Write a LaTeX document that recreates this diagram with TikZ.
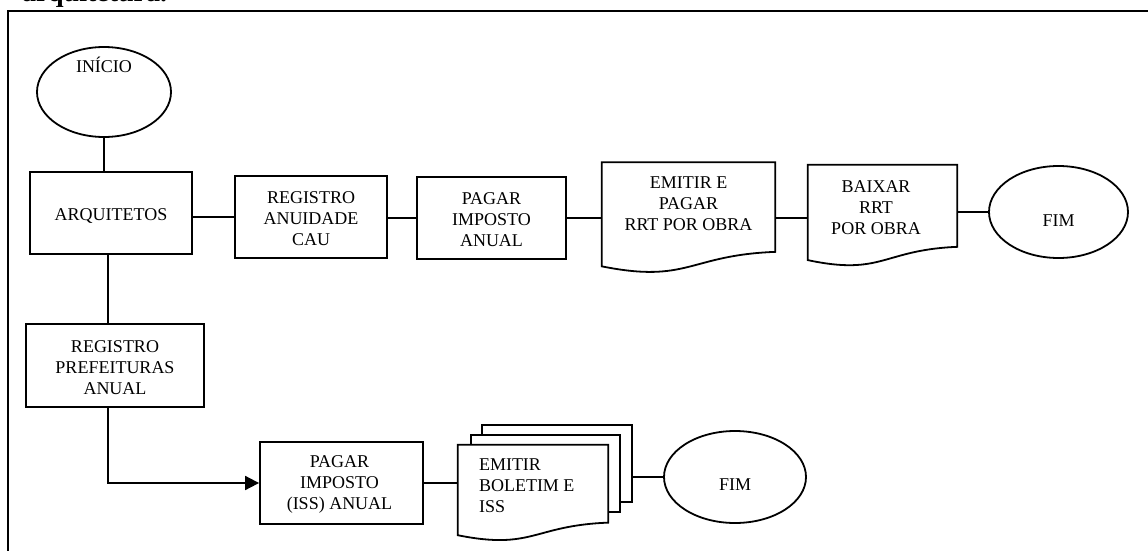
\documentclass[tikz,border=0pt]{standalone}
\usepackage{fontspec}
\setmainfont{Liberation Serif}
\usetikzlibrary{shapes.geometric,arrows.meta,calc}

% Flowchart "document" outline: straight top and sides, wavy bottom edge
\newcommand\docoutline[2][]{%
  \draw[shapeline,#1] (#2.north west) -- (#2.north east)
    -- ($(#2.north east)!0.804!(#2.south east)$)
    .. controls ($(#2.north)!0.834!(#2.south)$) and ($(#2.north)!1.09!(#2.south)$)
    .. ($(#2.north west)!0.934!(#2.south west)$) -- cycle;}

\begin{document}
\begin{tikzpicture}[x=1pt,y=-1pt,
  every node/.style={font=\fontsize{18}{21}\selectfont},
  shapeline/.style={line width=1.8pt, line join=miter},
  conn/.style={line width=1.8pt},
  boxnode/.style={rectangle, draw, line width=1.8pt, inner sep=0pt},
  ovalnode/.style={ellipse, draw, line width=1.8pt, inner sep=0pt},
  docnode/.style={rectangle, draw=none, inner sep=0pt},
  pagenode/.style={rectangle, draw, fill=white, line width=1.8pt, inner sep=0pt},
  txt/.style={align=center, inner sep=0pt}]

\useasboundingbox (0,0) rectangle (1148,551);

% caption above the frame and the frame itself
\node[anchor=base west, inner sep=0pt, font=\fontsize{28}{30}\selectfont\bfseries] (caption) at (22,2) {arquitetura.};
\draw[line width=2.4pt] (8,560) -- (8,11) -- (1160,11);

% upper branch
\node[ovalnode, minimum width=134pt, minimum height=90pt,
      label={[txt,yshift=27pt]center:INÍCIO}] (inicio) at (104,92) {};
\node[boxnode, minimum width=162pt, minimum height=82pt,
      label={[txt,yshift=-3pt]center:ARQUITETOS}] (arq) at (111,213) {};
\node[boxnode, minimum width=152pt, minimum height=82pt,
      label={[txt,yshift=-2pt]center:{REGISTRO\\ANUIDADE\\CAU}}] (anuid) at (311,217) {};
\node[boxnode, minimum width=149pt, minimum height=82pt,
      label={[txt,yshift=-2pt]center:{PAGAR\\IMPOSTO\\ANUAL}}] (pagar) at (491.5,218) {};
\node[docnode, minimum width=173pt, minimum height=111pt,
      label={[txt,yshift=14pt]center:{EMITIR E\\PAGAR\\RRT POR OBRA}}] (emit) at (688.5,218) {};
\docoutline{emit}
\node[docnode, minimum width=149pt, minimum height=101.7pt,
      label={[txt,xshift=-6.5pt,yshift=8pt]center:{BAIXAR\\RRT\\POR OBRA}}] (baix) at (882.5,215.8) {};
\docoutline{baix}
\node[ovalnode, minimum width=139pt, minimum height=92pt,
      label={[txt,yshift=-9pt]center:FIM}] (fim1) at (1058.5,212) {};

% lower branch
\node[boxnode, minimum width=178pt, minimum height=83pt,
      label={[txt,yshift=-2.5pt]center:{REGISTRO\\PREFEITURAS\\ANUAL}}] (pref) at (115,365.5) {};
\node[boxnode, minimum width=163pt, minimum height=82pt,
      label={[txt,xshift=-2pt,yshift=-1pt]center:{PAGAR\\IMPOSTO\\(ISS) ANUAL}}] (pagariss) at (341.5,483) {};

% stacked documents
\node[pagenode, minimum width=150pt, minimum height=77pt] (page3) at (557,463.5) {};
\node[pagenode, minimum width=149pt, minimum height=77pt] (page2) at (545.5,473.5) {};
\node[docnode, minimum width=150pt, minimum height=96.4pt] (front) at (533,493.2) {};
\docoutline[fill=white]{front}
\node[txt, align=left, anchor=west] (fronttext) at ([xshift=21pt,yshift=8pt]front.west)
      {EMITIR\\BOLETIM E\\ISS};

\node[ovalnode, minimum width=142pt, minimum height=92pt,
      label={[txt,yshift=-8pt]center:FIM}] (fim2) at (735,477) {};

% connectors
\draw[conn] (inicio.south) -- (inicio.south |- arq.north);
\draw[conn] (arq.east |- anuid.west) -- (anuid.west);
\draw[conn] (anuid.east |- pagar.west) -- (pagar.west);
\draw[conn] (pagar.east) -- (pagar.east -| emit.west);
\draw[conn] (emit.east) -- (emit.east -| baix.west);
\draw[conn] (baix.east |- fim1.west) -- (fim1.west);
\draw[conn] ([xshift=-3pt]arq.south) -- ([xshift=-3pt]arq.south |- pref.north);
\draw[conn, -{Triangle[length=14pt,width=14pt]}] ([xshift=-7pt]pref.south) |- (pagariss.west);
\draw[conn] (pagariss.east) -- (pagariss.east -| front.west);
\draw[conn] (fim2.west -| page3.east) -- (fim2.west);
\end{tikzpicture}
\end{document}
